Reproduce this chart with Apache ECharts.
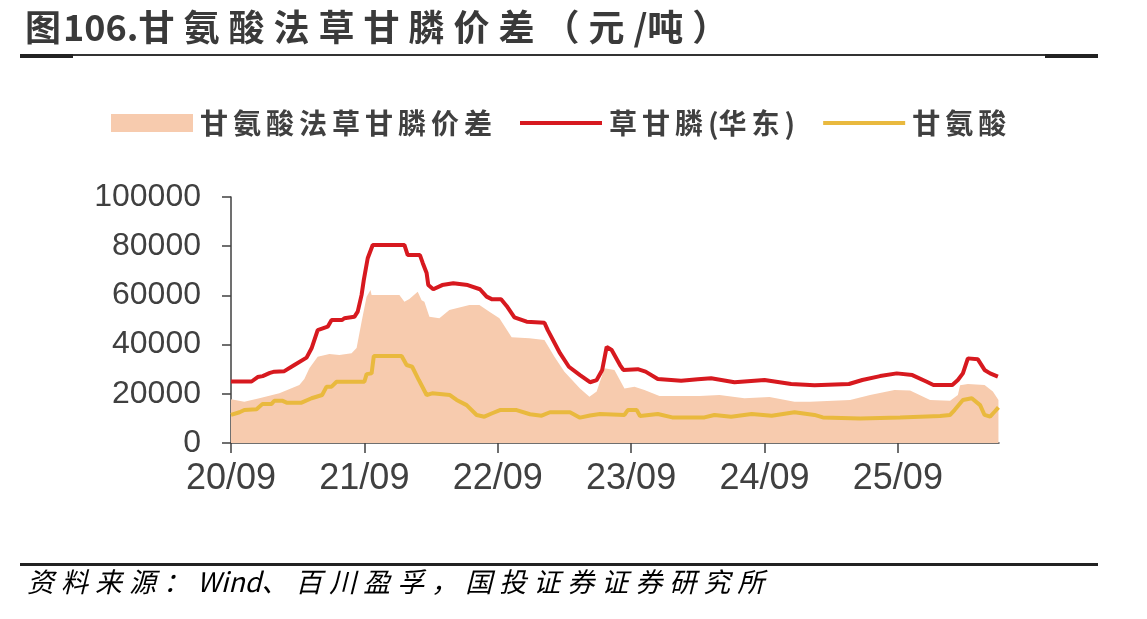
<!DOCTYPE html>
<html>
<head>
<meta charset="utf-8">
<script src="https://cdn.jsdelivr.net/npm/echarts@6/dist/echarts.min.js"></script>
<style>
html,body{margin:0;padding:0;background:#fff;}
#chart{width:1147px;height:619px;}
</style>
</head>
<body>
<div id="chart"></div>
<script>
// x values are months elapsed since 2020/09
const tickLabels = ['20/09', '21/09', '22/09', '23/09', '24/09', '25/09'];
const xMax = 69.1;

const seriesNames = ['甘氨酸法草甘膦价差', '草甘膦(华东)', '甘氨酸'];

const spreadX = [0,1.2,2.55,4.35,6.15,6.6,7.05,7.8,8.85,9.75,10.85,11.3,11.75,12.2,12.55,12.65,15.15,15.6,16.05,16.8,17.15,17.4,17.85,18.75,19.65,21.45,22.35,23.25,24.15,25.25,26.85,28.2,29.1,30.0,31.4,32.25,32.9,33.6,34.5,35.4,36.3,37.2,38.55,42.15,43.95,46.2,48.45,50.7,52.1,55.7,57.5,59.7,61.1,62.9,64.7,65.4,65.6,66.3,67.8,68.55,69.05];
const spreadY = [17800,16800,18200,20200,23600,26000,30400,35100,36200,35800,36500,38600,49300,59500,62200,60200,60200,57400,58500,61500,58000,57400,51300,50700,54100,56100,56100,53400,50700,43000,42600,41900,35100,29000,22200,18800,20900,30400,29700,22200,22900,21500,19100,19100,19500,18200,18700,16800,16800,17500,19500,21500,21300,17500,17200,19500,23500,24000,23600,20900,17500];

const glyphX = [0,1.85,2.4,2.85,3.5,3.9,4.8,5.7,6.8,7.25,7.8,8.7,9.05,10.0,10.2,11.1,11.4,11.75,11.95,12.3,12.75,15.6,15.9,17.0,17.25,17.6,17.75,18.2,19.0,20.0,21.3,22.4,23.0,23.5,24.3,24.8,25.5,26.6,28.2,28.5,29.6,30.4,31.4,32.3,32.9,33.4,33.8,34.25,35.0,35.3,36.6,37.3,38.4,40.5,42.0,43.2,45.3,48.0,50.4,52.5,55.6,56.8,58.4,59.9,61.3,62.6,63.2,64.9,65.4,65.85,66.3,67.2,67.8,68.3,69.0];
const glyphY = [25000,25000,26800,27200,28500,29000,29200,31700,34700,38500,45900,47300,50000,50000,50700,51300,53400,60200,66300,75100,80500,80500,76400,76400,73200,69100,64200,62500,64200,64900,64200,62500,59500,58400,58400,55700,51100,49300,48900,45900,36500,31000,27600,24700,25600,29700,39100,37800,31700,29700,30000,29000,26000,25300,25900,26300,24700,25600,24000,23500,24000,25600,27200,28300,27600,24900,23600,23600,25600,28300,34400,34000,29700,28300,27000];

const glycX = [0,0.77,1.2,2.3,2.84,3.65,3.9,4.6,5.0,6.35,7.25,8.2,8.6,9.05,9.5,12.0,12.2,12.65,12.85,15.35,15.8,16.3,16.9,17.6,18.1,19.7,20.3,21.2,22.1,22.8,23.5,24.2,25.7,26.9,27.95,28.7,30.5,31.4,32.3,33.2,35.4,35.7,36.5,36.8,38.4,39.7,42.6,43.5,45.0,46.85,48.65,50.7,52.5,53.25,56.6,60.2,63.8,64.7,65.1,65.85,66.65,67.4,67.8,68.3,68.7,69.05];
const glycY = [11400,12500,13400,13700,15900,15900,17200,17200,16400,16400,18200,19500,22900,22900,24900,24900,28000,28300,35400,35400,31700,31000,25600,19500,20200,19500,17500,15400,11400,10700,12100,13400,13400,11700,11100,12500,12500,10300,11200,11800,11400,13400,13400,11000,11800,10400,10400,11400,10700,11800,11100,12500,11400,10400,10000,10400,11000,11400,13400,17500,18200,15400,11400,10700,12700,14500];

const zip = (xs, ys) => xs.map((x, i) => [x, ys[i]]);

function spaced(str, cjk, asc) {
  return Array.from(str).map(ch => /[\x00-\x7F]/.test(ch) ? '{' + asc + '|' + ch + '}' : '{' + cjk + '|' + ch + '}').join('');
}

const titleText = '图106.甘氨酸法草甘膦价差（元/吨）';
const sourceText = '资料来源：Wind、百川盈孚，国投证券证券研究所';
const CJK = '"Noto Sans CJK SC", sans-serif';
const LAT = '"Liberation Sans", Arial, sans-serif';
const lineIcon = 'path://M0,0L82,0L82,4L0,4Z';

const chart = echarts.init(document.getElementById('chart'));
chart.setOption({
  animation: false,
  backgroundColor: '#fff',
  title: {
    text: '{g|图}' + spaced(titleText.slice(1), 'c', 'a'),
    left: 20,
    top: 4,
    textStyle: {
      rich: {
        g: {fontFamily: CJK, fontSize: 36, fontWeight: 'bold', color: '#3a3a3a', width: 38},
        c: {fontFamily: CJK, fontSize: 36, fontWeight: 'bold', color: '#3a3a3a', width: 45},
        a: {fontFamily: CJK, fontSize: 36, fontWeight: 'bold', color: '#3a3a3a'}
      }
    }
  },
  legend: {
    left: 106,
    top: 104,
    itemWidth: 82,
    itemHeight: 18,
    itemGap: 28,
    symbolKeepAspect: true,
    data: [
      {name: seriesNames[0], icon: 'rect'},
      {name: seriesNames[1], icon: lineIcon},
      {name: seriesNames[2], icon: lineIcon}
    ],
    formatter: name => '{p| }' + spaced(name, 'c', 'a'),
    textStyle: {
      rich: {
        p: {width: 2},
        c: {fontFamily: CJK, fontSize: 28, fontWeight: 'bold', color: '#404040', width: 33},
        a: {fontFamily: CJK, fontSize: 28, fontWeight: 'bold', color: '#404040'}
      }
    }
  },
  grid: {left: 231, right: 148, top: 197, bottom: 176, containLabel: false},
  xAxis: {
    type: 'value',
    min: 0,
    max: xMax,
    interval: 12,
    splitLine: {show: false},
    axisLine: {lineStyle: {color: '#404040', width: 1.5}},
    axisTick: {show: true, length: 10, inside: false, customValues: [0, 12, 24, 36, 48, 60], lineStyle: {color: '#404040', width: 1.5}},
    axisLabel: {
      customValues: [0, 12, 24, 36, 48, 60],
      formatter: v => tickLabels[Math.round(v / 12)] || '',
      fontFamily: LAT, fontSize: 36, color: '#404040', margin: 18
    }
  },
  yAxis: {
    type: 'value',
    min: 0,
    max: 100000,
    interval: 20000,
    splitLine: {show: false},
    axisLine: {show: true, lineStyle: {color: '#404040', width: 1.5}},
    axisTick: {show: true, length: 9, inside: false, lineStyle: {color: '#404040', width: 1.5}},
    axisLabel: {formatter: v => String(v), fontFamily: LAT, fontSize: 32, color: '#404040', margin: 30}
  },
  series: [
    {
      name: seriesNames[0], type: 'line', data: zip(spreadX, spreadY),
      symbol: 'none', color: '#F7CBAE',
      lineStyle: {width: 0}, areaStyle: {color: '#F7CBAE', opacity: 1}, z: 1
    },
    {
      name: seriesNames[1], type: 'line', data: zip(glyphX, glyphY),
      symbol: 'none', color: '#D7191F', lineStyle: {width: 4, color: '#D7191F'}, z: 3
    },
    {
      name: seriesNames[2], type: 'line', data: zip(glycX, glycY),
      symbol: 'none', color: '#E9B93E', lineStyle: {width: 4, color: '#E9B93E'}, z: 4
    }
  ],
  graphic: [
    {type: 'rect', shape: {x: 20, y: 54, width: 1078, height: 2}, style: {fill: '#333'}},
    {type: 'rect', shape: {x: 20, y: 54, width: 53, height: 4}, style: {fill: '#222'}},
    {type: 'rect', shape: {x: 1045, y: 54, width: 53, height: 4}, style: {fill: '#222'}},
    {type: 'rect', shape: {x: 20, y: 563, width: 1078, height: 3}, style: {fill: '#222'}},
    {
      type: 'text', left: 27, top: 568,
      style: {
        text: spaced(sourceText, 'c', 'a'),
        rich: {
          c: {fontFamily: CJK, fontSize: 27, fontStyle: 'italic', color: '#404040', width: 34},
          a: {fontFamily: CJK, fontSize: 27, fontStyle: 'italic', color: '#404040'}
        }
      }
    }
  ]
});
</script>
</body>
</html>
